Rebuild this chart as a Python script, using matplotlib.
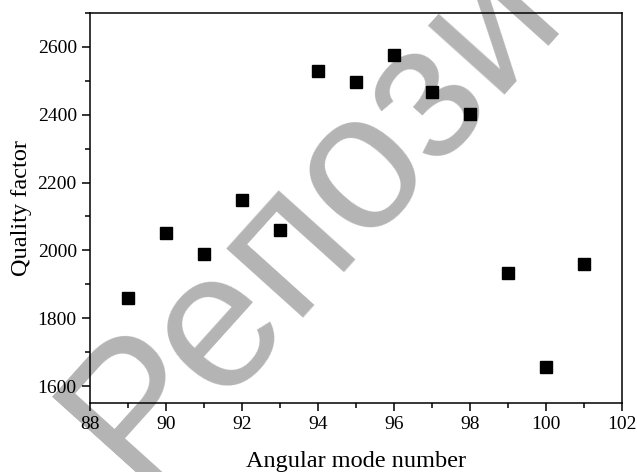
import matplotlib
matplotlib.use("Agg")
import matplotlib.pyplot as plt
from matplotlib.ticker import MultipleLocator

modes = [89, 90, 91, 92, 93, 94, 95, 96, 97, 98, 99, 100, 101]
q_factor = [1860, 2050, 1990, 2150, 2060, 2528, 2498, 2576, 2468, 2402, 1934, 1656, 1960]

x_ticks = [88, 90, 92, 94, 96, 98, 100, 102]
y_ticks = [1600, 1800, 2000, 2200, 2400, 2600]

plt.rcParams['font.family'] = ['Liberation Serif', 'DejaVu Serif']

fig = plt.figure(figsize=(6.37, 4.72), dpi=100)
ax = fig.add_axes([90/637, 1 - 403/472, (622 - 90)/637, (403 - 13)/472])
ax.set_zorder(2)
ax.patch.set_alpha(0)

ax.plot(modes, q_factor, linestyle='none', marker='s', markersize=8.5,
        color='black', zorder=5)

ax.set_xlim(88, 102)
ax.set_ylim(1550, 2700)
ax.set_xticks(x_ticks)
ax.set_yticks(y_ticks)
ax.xaxis.set_minor_locator(MultipleLocator(1))
ax.yaxis.set_minor_locator(MultipleLocator(100))
ax.tick_params(which='both', direction='out', top=False, right=False,
               labelsize=14, width=1.1)
ax.tick_params(which='major', length=6)
ax.tick_params(which='minor', length=3.5)
for s in ax.spines.values():
    s.set_linewidth(1.1)

ax.set_xlabel('Angular mode number', fontsize=17.5, labelpad=13)
ax.set_ylabel('Quality factor', fontsize=17.5, labelpad=4)

fig.text(0.2135, -0.0301, 'Репозиторий', family=['Liberation Sans', 'DejaVu Sans'],
         fontsize=140, color='#b4b4b4', rotation=48, rotation_mode='anchor',
         ha='left', va='baseline', zorder=1)

fig.savefig('out.png', dpi=100)
